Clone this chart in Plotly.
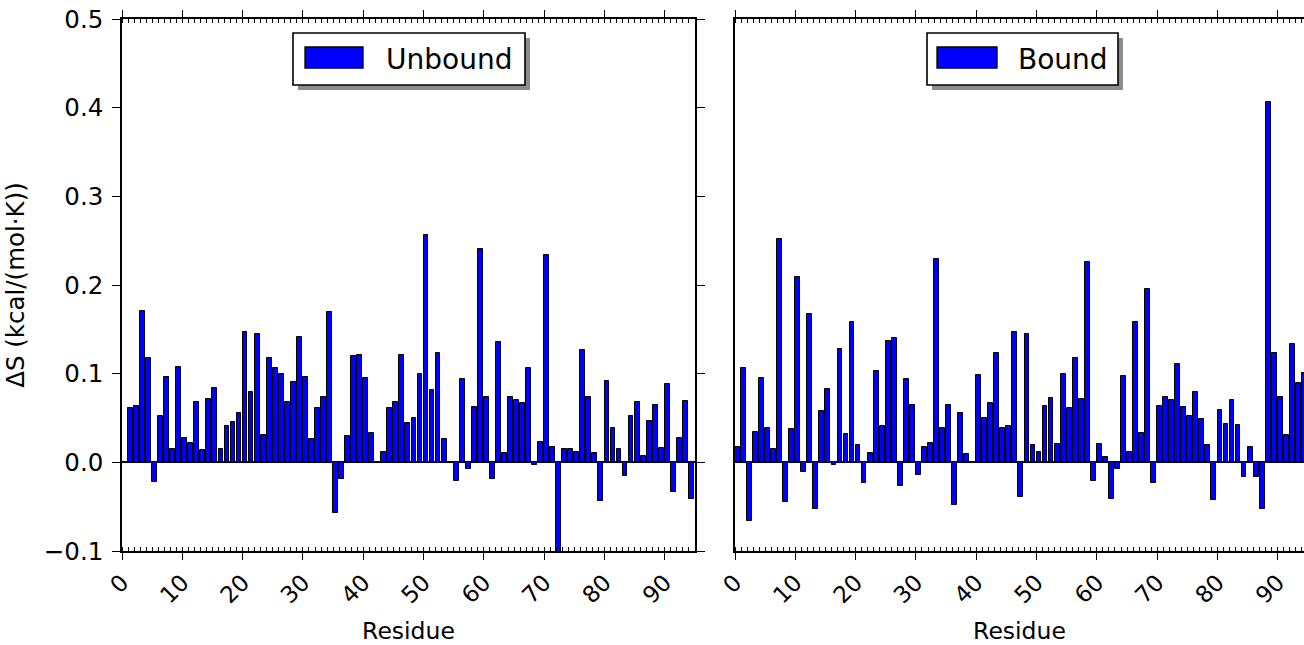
import plotly.graph_objects as go

# ---------------- data ----------------
unbound_residues = list(range(1, 95))
unbound_values = [
    0.061, 0.063, 0.171, 0.118, -0.022, 0.052, 0.096, 0.015, 0.107, 0.028,
    0.022, 0.068, 0.014, 0.071, 0.084, 0.015, 0.041, 0.045, 0.056, 0.147,
    0.079, 0.145, 0.031, 0.118, 0.106, 0.100, 0.068, 0.091, 0.141, 0.096,
    0.026, 0.061, 0.074, 0.169, -0.057, -0.019, 0.030, 0.120, 0.121, 0.095,
    0.033, 0.000, 0.012, 0.061, 0.068, 0.121, 0.044, 0.050, 0.100, 0.256,
    0.082, 0.123, 0.026, 0.000, -0.021, 0.094, -0.008, 0.062, 0.241, 0.074,
    -0.019, 0.136, 0.010, 0.074, 0.070, 0.067, 0.106, -0.003, 0.023, 0.234,
    0.017, -0.110, 0.015, 0.015, 0.012, 0.127, 0.074, 0.011, -0.044, 0.092,
    0.039, 0.015, -0.015, 0.052, 0.068, 0.007, 0.047, 0.065, 0.016, 0.088,
    -0.034, 0.028, 0.069, -0.041,
]

bound_residues = list(range(0, 95))
bound_values = [
    0.017, 0.106, -0.066, 0.034, 0.095, 0.039, 0.015, 0.252, -0.045, 0.038,
    0.209, -0.011, 0.167, -0.053, 0.058, 0.083, -0.003, 0.128, 0.032, 0.158,
    0.019, -0.023, 0.011, 0.103, 0.041, 0.137, 0.140, -0.027, 0.094, 0.065,
    -0.014, 0.017, 0.022, 0.229, 0.039, 0.065, -0.048, 0.056, 0.009, 0.000,
    0.098, 0.050, 0.067, 0.123, 0.039, 0.041, 0.147, -0.039, 0.145, 0.020,
    0.012, 0.063, 0.073, 0.021, 0.100, 0.061, 0.118, 0.071, 0.226, -0.021,
    0.021, 0.006, -0.041, -0.008, 0.097, 0.012, 0.158, 0.033, 0.195, -0.023,
    0.063, 0.074, 0.070, 0.111, 0.062, 0.052, 0.079, 0.049, 0.020, -0.042,
    0.059, 0.043, 0.070, 0.042, -0.016, 0.017, -0.016, -0.053, 0.406, 0.123,
    0.074, 0.031, 0.133, 0.090, 0.101,
]

series_names = ["Unbound", "Bound"]
x_title = "Residue"
y_title = "ΔS (kcal/(mol·K))"
x_tick_values = [0, 10, 20, 30, 40, 50, 60, 70, 80, 90]
y_tick_values = [-0.1, 0.0, 0.1, 0.2, 0.3, 0.4, 0.5]

# ---------------- layout helpers ----------------
W, H = 1304, 645
ML, MR, MT, MB = 0, 0, 19, 94
PW, PH = W - ML - MR, H - MT - MB


def fx(px):
    return (px - ML) / PW


def fy(py):
    return (H - MB - py) / PH


FONT = "DejaVu Sans"
BLUE = "#0000ff"

fig = go.Figure()
fig.add_trace(go.Bar(
    x=unbound_residues, y=unbound_values, name=series_names[0],
    offset=0, width=0.8, xaxis="x", yaxis="y",
    marker=dict(color=BLUE, line=dict(color="black", width=1)),
    showlegend=False,
))
fig.add_trace(go.Bar(
    x=bound_residues, y=bound_values, name=series_names[1],
    offset=0, width=0.8, xaxis="x2", yaxis="y2",
    marker=dict(color=BLUE, line=dict(color="black", width=1)),
    showlegend=False,
))

scale = (695 - 122) / 95.0

xcommon = dict(
    showline=True, linecolor="black", linewidth=1.6, mirror="ticks",
    ticks="outside", ticklen=7, tickwidth=1.3, tickcolor="black",
    tickvals=x_tick_values, tickangle=-45,
    tickfont=dict(family=FONT, size=23, color="black"),
    minor=dict(dtick=1, tick0=0, ticks="inside", ticklen=4, tickwidth=1, tickcolor="black"),
    showgrid=False, zeroline=False, automargin=False,
    title=dict(text=x_title, font=dict(family=FONT, size=23.5, color="black"), standoff=19),
)
ycommon = dict(
    range=[-0.1, 0.5], showline=True, linecolor="black", linewidth=1.6,
    showgrid=False, zeroline=True, zerolinecolor="black", zerolinewidth=1.6,
    automargin=False,
)

fig.update_layout(
    width=W, height=H,
    margin=dict(l=ML, r=MR, t=MT, b=MB),
    paper_bgcolor="white", plot_bgcolor="white",
    font=dict(family=FONT, color="black"),
    bargap=0,
    xaxis=dict(domain=[fx(122), fx(695)], range=[0, 95], anchor="y", **xcommon),
    xaxis2=dict(domain=[fx(735), 1.0], range=[0, (W - 735) / scale], anchor="y2", **xcommon),
    yaxis=dict(
        domain=[0, 1], anchor="x", mirror="ticks",
        ticks="outside", ticklen=8, tickwidth=1.3, tickcolor="black",
        tickvals=y_tick_values, tickformat=".1f", ticklabelstandoff=4,
        tickfont=dict(family=FONT, size=24.5, color="black"),
        title=dict(text=y_title, font=dict(family=FONT, size=24.5, color="black"), standoff=12),
        **ycommon,
    ),
    yaxis2=dict(
        domain=[0, 1], anchor="x2", mirror=False, ticks="", showticklabels=False,
        **ycommon,
    ),
)

# ---------------- legend boxes (drawn) ----------------
legends = [
    dict(box=(293, 33, 525, 85), sw=(305, 47, 363, 68), tx=384, label=series_names[0]),
    dict(box=(927, 33, 1118, 85), sw=(937, 47, 997, 68), tx=1016, label=series_names[1]),
]
shapes = []
annotations = []
for lg in legends:
    x0, y0, x1, y1 = lg["box"]
    shapes.append(dict(type="rect", xref="paper", yref="paper",
                       x0=fx(x0 + 5), x1=fx(x1 + 5), y0=fy(y1 + 5), y1=fy(y0 + 5),
                       fillcolor="#8c8c8c", line=dict(width=0), layer="above"))
    shapes.append(dict(type="rect", xref="paper", yref="paper",
                       x0=fx(x0), x1=fx(x1), y0=fy(y1), y1=fy(y0),
                       fillcolor="white", line=dict(color="black", width=1.6), layer="above"))
    sx0, sy0, sx1, sy1 = lg["sw"]
    shapes.append(dict(type="rect", xref="paper", yref="paper",
                       x0=fx(sx0), x1=fx(sx1), y0=fy(sy1), y1=fy(sy0),
                       fillcolor=BLUE, line=dict(color="black", width=1.3), layer="above"))
    annotations.append(dict(xref="paper", yref="paper", x=fx(lg["tx"]), y=fy((y0 + y1) / 2),
                            xanchor="left", yanchor="middle", showarrow=False,
                            text=lg["label"], font=dict(family=FONT, size=28, color="black")))

fig.update_layout(shapes=shapes, annotations=annotations)

fig.write_html("out.html", config={"displayModeBar": False},
               post_script="document.body.style.margin='0';")
